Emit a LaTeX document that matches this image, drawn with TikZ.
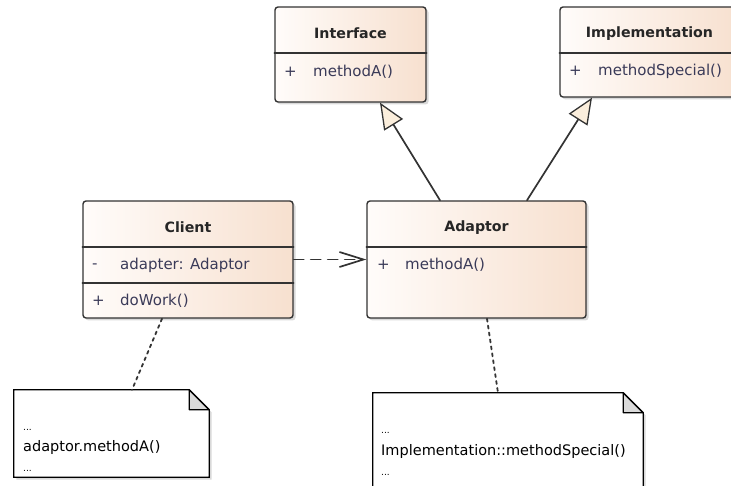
\documentclass[tikz,border=0pt]{standalone}
\usepackage{fontspec}
\setmainfont{DejaVu Sans}
\usetikzlibrary{arrows.meta, shadows, calc}

\definecolor{boxline}{HTML}{333333}
\definecolor{boxleft}{HTML}{FFFCFA}
\definecolor{boxright}{HTML}{F7E0CF}
\definecolor{tipfill}{HTML}{FBEEDC}
\definecolor{foldfill}{HTML}{DADADA}
\definecolor{membertext}{HTML}{3A3A58}

\begin{document}
\begin{tikzpicture}[x=1pt, y=-1pt, line cap=round,
    umlclass/.style={draw=boxline, line width=1.4pt, rounded corners=3pt,
        left color=boxleft, right color=boxright, inner sep=0pt,
        drop shadow={shadow xshift=2.5pt, shadow yshift=-2.5pt, opacity=0.3}},
    classtitle/.style={font=\fontsize{14.2}{16}\selectfont\bfseries, text=black!85},
    member/.style={font=\fontsize{15}{17}\selectfont, text=membertext, anchor=west, inner sep=0pt},
    notebox/.style={inner sep=0pt},
    noteline/.style={draw=black, line width=1.3pt, fill=white,
        drop shadow={shadow xshift=2.5pt, shadow yshift=-2.5pt, opacity=0.3}},
    notetext/.style={font=\fontsize{14.5}{17}\selectfont, anchor=base west, inner sep=0pt},
    notedots/.style={font=\fontsize{9}{10}\selectfont, anchor=base west, inner sep=0pt},
    sepline/.style={draw=boxline, line width=1.3pt},
    realize/.style={draw=boxline, line width=1.7pt, -{Triangle[length=26pt, width=22pt, fill=tipfill, line width=1.3pt]}},
    depend/.style={draw=boxline, line width=1.7pt, dash pattern=on 10pt off 7pt,
        -{Straight Barb[length=24pt, width=15pt]}},
    notelink/.style={draw=boxline, line width=1.8pt, dash pattern=on 3pt off 4pt}]

    \useasboundingbox (0,0) rectangle (731,486);

    % Classes
    \node[umlclass, minimum width=151pt, minimum height=95pt] (interface) at (350.5,54.5) {};
    \node[umlclass, minimum width=179pt, minimum height=90pt] (implementation) at (649.5,52) {};
    \node[umlclass, minimum width=210pt, minimum height=117pt] (client) at (188,259.5) {};
    \node[umlclass, minimum width=219pt, minimum height=117pt] (adaptor) at (476.5,259.5) {};

    % Compartment lines
    \draw[sepline] (interface.west |- 0,53) -- (interface.east |- 0,53);
    \draw[sepline] (implementation.west |- 0,53) -- (implementation.east |- 0,53);
    \draw[sepline] (client.west |- 0,247) -- (client.east |- 0,247);
    \draw[sepline] (client.west |- 0,283) -- (client.east |- 0,283);
    \draw[sepline] (adaptor.west |- 0,247) -- (adaptor.east |- 0,247);

    % Titles
    \node[classtitle] (interfaceName) at (350.5,33.5) {Interface};
    \node[classtitle] (implementationName) at (649.5,33.5) {Implementation};
    \node[classtitle] (clientName) at (188,227.5) {Client};
    \node[classtitle] (adaptorName) at (476.5,227.5) {Adaptor};

    % Members
    \node[member] (interfaceVis) at (284,72) {+};
    \node[member] (interfaceOp) at (313,72) {methodA()};
    \node[member] (implementationVis) at (569,71) {+};
    \node[member] (implementationOp) at (598,71) {methodSpecial()};
    \node[member] (clientVisA) at (92,266) {-};
    \node[member] (clientAttr) at (120,265) {adapter: Adaptor};
    \node[member] (clientVisB) at (92,301) {+};
    \node[member] (clientOp) at (120,301) {doWork()};
    \node[member] (adaptorVis) at (377,265) {+};
    \node[member] (adaptorOp) at (405,265) {methodA()};

    % Notes
    \node[notebox, minimum width=195pt, minimum height=87pt] (noteA) at (111.5,433.5) {};
    \node[notebox, minimum width=270pt, minimum height=97pt] (noteB) at (508,441.5) {};
    \foreach \n in {noteA, noteB} {
        \path[noteline] (\n.north west) -- ([xshift=-20pt]\n.north east)
            -- ([yshift=-20pt]\n.north east) -- (\n.south east) -- (\n.south west) -- cycle;
        \filldraw[draw=black, line width=1.3pt, fill=foldfill, line join=round]
            ([xshift=-20pt]\n.north east) -- ([xshift=-20pt, yshift=-20pt]\n.north east)
            -- ([yshift=-20pt]\n.north east) -- cycle;
    }
    \node[notedots] (noteAtop) at (23,430) {...};
    \node[notetext] (noteAcode) at (23,451) {adaptor.methodA()};
    \node[notedots] (noteAend) at (23,471) {...};
    \node[notedots] (noteBtop) at (381,433) {...};
    \node[notetext] (noteBcode) at (381,455) {Implementation::methodSpecial()};
    \node[notedots] (noteBend) at (381,475) {...};

    % Connectors
    \draw[realize] ([xshift=-36.5pt]adaptor.north) -- ([xshift=29.5pt]interface.south);
    \draw[realize] ([xshift=50.5pt]adaptor.north) -- ([xshift=-57.5pt]implementation.south);
    \draw[depend] (client.east) -- (adaptor.west);
    \draw[notelink] ([xshift=-26pt]client.south) -- ([xshift=20.5pt]noteA.north);
    \draw[notelink] ([xshift=10.5pt]adaptor.south) -- ([xshift=-10pt]noteB.north);
\end{tikzpicture}
\end{document}
